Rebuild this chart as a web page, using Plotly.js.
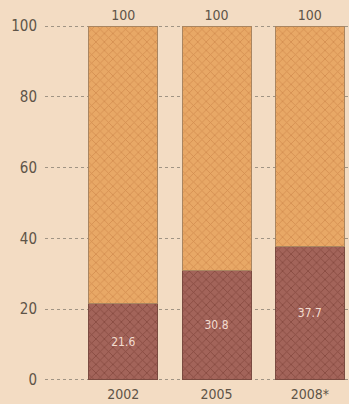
<!DOCTYPE html>
<html>
<head>
<meta charset="utf-8">
<script src="https://cdn.plot.ly/plotly-3.0.1.min.js"></script>
<style>
html,body{margin:0;padding:0;background:#f3dcc3;}
#chart{width:349px;height:404px;}
</style>
</head>
<body>
<div id="chart"></div>
<script>
var categories = ["2002", "2005", "2008*"];
var shareValues = [21.6, 30.8, 37.7];
var totalValues = [100, 100, 100];
var yTicks = [0, 20, 40, 60, 80, 100];

var restValues = totalValues.map(function (t, i) { return +(t - shareValues[i]).toFixed(1); });

var fontFam = "'DejaVu Sans Condensed', 'Liberation Sans Narrow', sans-serif";

var bottomTrace = {
  type: "bar",
  x: categories,
  y: shareValues,
  text: shareValues.map(function (v) { return v.toFixed(1); }),
  textposition: "inside",
  insidetextanchor: "middle",
  textfont: {family: fontFam, size: 12, color: "#f3ddd0"},
  marker: {
    color: "#9b5c52",
    line: {color: "#7a4a40", width: 1},
    pattern: {shape: "x", fgcolor: "#86493f", bgcolor: "#a3645a", size: 6, solidity: 0.25}
  },
  hoverinfo: "skip",
  cliponaxis: false
};

var topTrace = {
  type: "bar",
  x: categories,
  y: restValues,
  text: totalValues.map(String),
  texttemplate: "%{text}",
  textposition: "outside",
  textfont: {family: fontFam, size: 14, color: "#5e5448"},
  marker: {
    color: "#e6a262",
    line: {color: "#a98560", width: 1},
    pattern: {shape: "x", fgcolor: "#d28d50", bgcolor: "#e8a866", size: 6, solidity: 0.25}
  },
  hoverinfo: "skip",
  cliponaxis: false
};

var layout = {
  width: 349,
  height: 404,
  margin: {l: 45, r: 0, t: 25, b: 23, pad: 0},
  paper_bgcolor: "#f3dcc3",
  plot_bgcolor: "#f3dcc3",
  barmode: "stack",
  bargap: 0.26,
  showlegend: false,
  xaxis: {
    type: "category",
    range: [-0.84, 2.42],
    showgrid: false,
    zeroline: false,
    showline: false,
    ticks: "",
    tickfont: {family: fontFam, size: 14, color: "#5e5448"},
    ticklabelstandoff: 3
  },
  yaxis: {
    range: [-0.3, 100.3],
    tickvals: yTicks,
    ticktext: yTicks.map(String),
    showgrid: true,
    gridcolor: "#a09484",
    griddash: "dot",
    gridwidth: 1,
    zeroline: false,
    showline: false,
    ticks: "",
    ticklabelstandoff: 7,
    tickfont: {family: fontFam, size: 15, color: "#5e5448"}
  }
};

Plotly.newPlot("chart", [bottomTrace, topTrace], layout, {displayModeBar: false, staticPlot: true});
</script>
</body>
</html>
